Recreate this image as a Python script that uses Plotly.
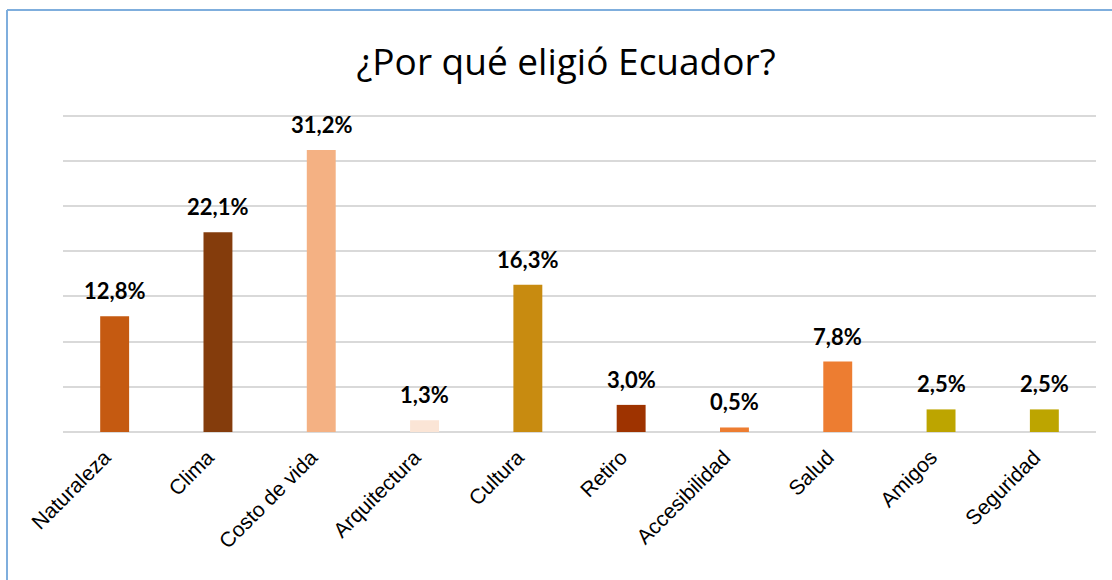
import plotly.graph_objects as go

categories = ["Naturaleza", "Clima", "Costo de vida", "Arquitectura", "Cultura",
              "Retiro", "Accesibilidad", "Salud", "Amigos", "Seguridad"]
values = [12.8, 22.1, 31.2, 1.3, 16.3, 3.0, 0.5, 7.8, 2.5, 2.5]
labels = ["12,8%", "22,1%", "31,2%", "1,3%", "16,3%", "3,0%", "0,5%", "7,8%", "2,5%", "2,5%"]
colors = ["#C55A11", "#843C0C", "#F4B183", "#FBE5D6", "#C88B10",
          "#9E3300", "#ED7D31", "#ED7D31", "#BDA500", "#BDA500"]

W, H = 1112, 580
L, R, T, B = 63, 16, 113, 148
pw, ph = W - L - R, H - T - B

fig = go.Figure(go.Bar(
    x=categories, y=values, marker=dict(color=colors, line=dict(width=0)),
    width=0.28, hoverinfo="x+y",
))

for c, v, t in zip(categories, values, labels):
    fig.add_annotation(x=c, y=v, text=t, showarrow=False, yanchor="bottom",
                       yshift=10, font=dict(family="Lato", size=22, color="black", weight="bold"))

def px_x(x):
    return (x - L) / pw

def px_y(y):
    return (H - B - y) / ph

fig.update_layout(
    width=W, height=H,
    margin=dict(l=L, r=R, t=T, b=B, autoexpand=False),
    paper_bgcolor="white", plot_bgcolor="white",
    title=dict(text="¿Por qué eligió Ecuador?", x=0.509, xanchor="center",
               y=1 - 62 / H, yanchor="middle",
               font=dict(family="Open Sans", size=37, color="black")),
    xaxis=dict(tickangle=-45, tickfont=dict(family="Liberation Sans", size=21, color="black"),
               showline=False, ticks="", showgrid=False, automargin=False,
               ticklabelshift=-10, ticklabelstandoff=8),
    yaxis=dict(range=[0, 35.3], tickvals=[5, 10, 15, 20, 25, 30, 35],
               showticklabels=False, gridcolor="#D9D9D9",
               gridwidth=2, zeroline=True, zerolinecolor="#D9D9D9", zerolinewidth=2,
               automargin=False),
    showlegend=False,
    bargap=0.72,
    shapes=[
        dict(type="line", xref="paper", yref="paper", x0=px_x(7), x1=px_x(1112),
             y0=px_y(10), y1=px_y(10), line=dict(color="#7FAEDD", width=2)),
        dict(type="line", xref="paper", yref="paper", x0=px_x(7), x1=px_x(7),
             y0=px_y(10), y1=px_y(580), line=dict(color="#7FAEDD", width=2)),
    ],
)

fig.write_html("out.html", config={"displayModeBar": False},
               post_script="document.body.style.margin='0';")
